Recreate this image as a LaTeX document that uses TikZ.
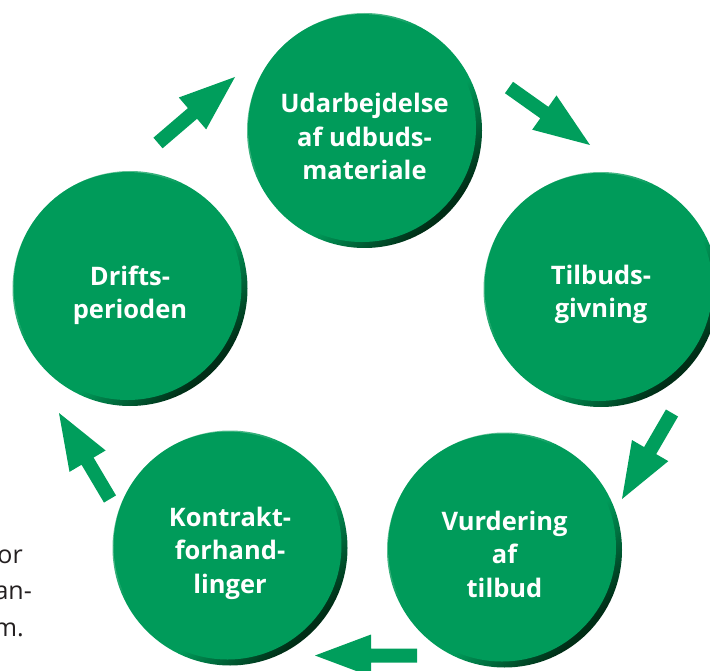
\documentclass[tikz,border=0pt]{standalone}
\usepackage{fontspec}
\setmainfont{Open Sans}
\usetikzlibrary{calc,fadings}
\definecolor{gmain}{RGB}{0,155,90}
\definecolor{garrow}{RGB}{0,158,92}
\definecolor{glight}{RGB}{165,218,190}
\definecolor{gdark}{RGB}{0,45,22}
\definecolor{txtgray}{RGB}{35,31,32}
\pgfdeclareradialshading{rimshade}{\pgfpointorigin}{color(0bp)=(white); color(40bp)=(white); color(49.5bp)=(black); color(50bp)=(black)}
\pgfdeclarefading{rimfade}{\pgfuseshading{rimshade}}
\pgfdeclareverticalshading{rimaxis}{100bp}{color(0bp)=(gdark); color(26bp)=(gdark); color(42bp)=(gmain); color(58bp)=(gmain); color(76bp)=(glight); color(100bp)=(glight)}
\tikzset{
  stage/.style={circle, minimum size=235pt, inner sep=0pt, shade, shading=rimaxis, shading angle=45},
  stagetext/.style={text=white, font=\bfseries\fontsize{25.5}{33.5}\selectfont, align=center},
  sidetext/.style={text=txtgray, font=\fontsize{25}{30}\selectfont, anchor=base east, inner sep=0pt},
  arrowfill/.style={fill=garrow, draw=none},
}
\newcommand\stageface[1]{\fill[gmain, path fading=rimfade] ($(#1.center)+(-2.5,-2.5)$) circle (114pt);}
\newcommand\blockarrow[2]{%
  \coordinate (#1-b) at ($(#2)!56pt!(#1)$);
  \fill[arrowfill] ($(#1)!7pt!90:(#2)$) -- ($(#1-b)!7pt!90:(#2)$) -- ($(#1-b)!21pt!90:(#2)$) -- (#2)
    -- ($(#1-b)!21pt!-90:(#2)$) -- ($(#1-b)!7pt!-90:(#2)$) -- ($(#1)!7pt!-90:(#2)$) -- cycle;}
\begin{document}
\begin{tikzpicture}[x=1pt,y=-1pt]
\useasboundingbox (0,0) rectangle (710,671);
% circles
\node[stage] (t) at (364.5,130.5) {};
\node[stage] (r) at (601,289.5) {};
\node[stage] (br) at (504.5,550) {};
\node[stage] (bl) at (230,548) {};
\node[stage] (l) at (130,288.5) {};
\stageface{t}\stageface{r}\stageface{br}\stageface{bl}\stageface{l}
% labels
\node[stagetext] (tt) at ($(t)+(0,6)$) {Udarbejdelse\\af udbuds-\\materiale};
\node[stagetext] (rt) at ($(r)+(0,5)$) {Tilbuds-\\givning};
\node[stagetext] (brt) at ($(br)+(0,4)$) {Vurdering\\af\\tilbud};
\node[stagetext] (blt) at ($(bl)+(0,5)$) {Kontrakt-\\forhand-\\linger};
\node[stagetext] (lt) at ($(l)+(0,7)$) {Drifts-\\perioden};
% arrows
\coordinate (a1s) at (158,143); \coordinate (a1e) at (235,77);
\coordinate (a2s) at (509,87.5); \coordinate (a2e) at (590,145);
\coordinate (a3s) at (672,413); \coordinate (a3e) at (622,499);
\coordinate (a4s) at (417,655.5); \coordinate (a4e) at (315,655.5);
\coordinate (a5s) at (110,499); \coordinate (a5e) at (59,413);
\blockarrow{a1s}{a1e}
\blockarrow{a2s}{a2e}
\blockarrow{a3s}{a3e}
\blockarrow{a4s}{a4e}
\blockarrow{a5s}{a5e}
% side text
\node[sidetext] (s1) at (23,563) {or};
\node[sidetext] (s2) at (32,599) {an-};
\node[sidetext] (s3) at (24,636) {m.};
\end{tikzpicture}
\end{document}
